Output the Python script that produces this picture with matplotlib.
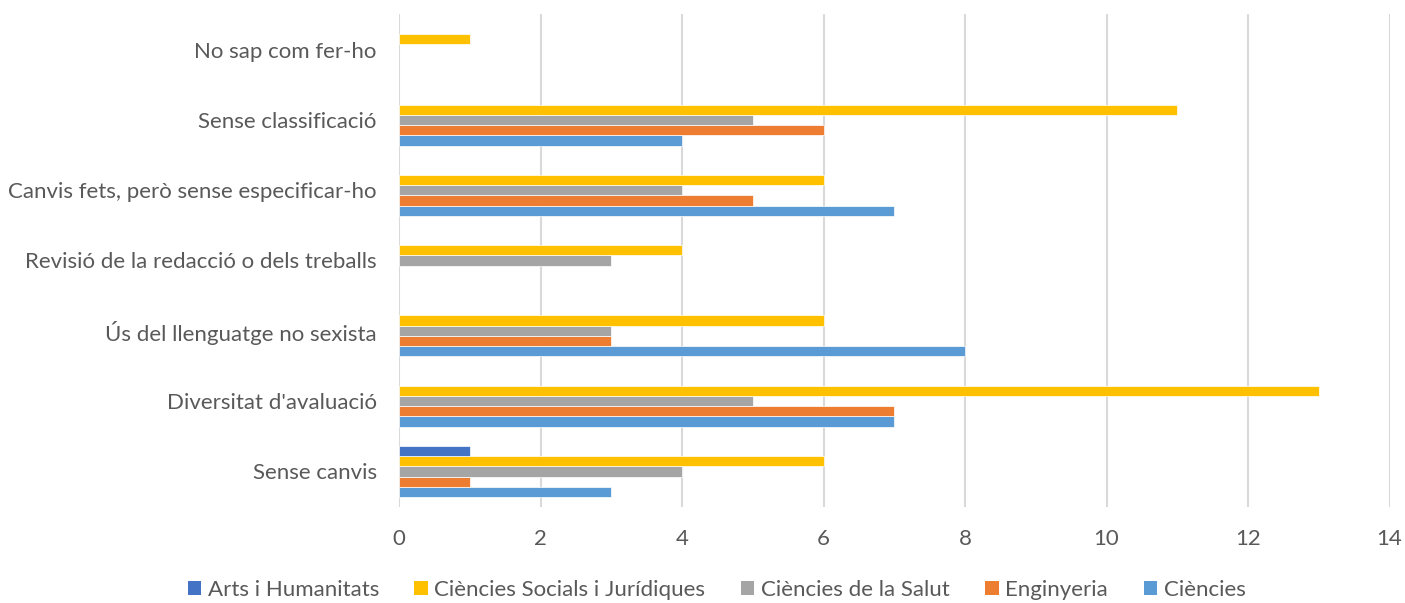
import matplotlib
matplotlib.use("Agg")
import matplotlib.pyplot as plt
import matplotlib.patches as mpatches
import numpy as np

plt.rcParams.update({
    "font.family": ["Lato", "DejaVu Sans"],
    "font.size": 16,
})

# categories, bottom -> top
CATEGORIES = ["Sense canvis", "Diversitat d'avaluació", "Ús del llenguatge no sexista",
              "Revisió de la redacció o dels treballs", "Canvis fets, però sense especificar-ho",
              "Sense classificació", "No sap com fer-ho"]

# series values (same order as categories)
CIENCIES = [3, 7, 8, 0, 7, 4, 0]
ENGINYERIA = [1, 7, 3, 0, 5, 6, 0]
SALUT = [4, 5, 3, 3, 4, 5, 0]
SOCIALS = [6, 13, 6, 4, 6, 11, 1]
ARTS = [1, 0, 0, 0, 0, 0, 0]

XTICKS = [0, 2, 4, 6, 8, 10, 12, 14]

# bottom -> top within a group
SERIES = [("Ciències", CIENCIES, "#5B9BD5"),
          ("Enginyeria", ENGINYERIA, "#ED7D31"),
          ("Ciències de la Salut", SALUT, "#A5A5A5"),
          ("Ciències Socials i Jurídiques", SOCIALS, "#FFC000"),
          ("Arts i Humanitats", ARTS, "#4472C4")]

TXT = "#595959"

fig = plt.figure(figsize=(14.05, 6.03), dpi=100)
ax = fig.add_axes([0.284, 0.16, 0.705, 0.816])

y = np.arange(len(CATEGORIES))
h = 0.146
for k, (name, vals, col) in enumerate(SERIES):
    vals = np.array(vals, dtype=float)
    mask = vals > 0
    ax.barh(y[mask] + (k - 2) * h, vals[mask], h, color=col,
            edgecolor="white", linewidth=0.5, zorder=2)

ax.set_xlim(0, 14)
ax.set_ylim(-0.5, len(CATEGORIES) - 0.5)
ax.set_xticks(XTICKS)
ax.set_yticks(y)
ax.set_yticklabels(CATEGORIES)
ax.grid(axis="x", color="#D9D9D9", lw=1.5, zorder=0)
for sp in ax.spines.values():
    sp.set_visible(False)
ax.tick_params(axis="both", length=0, colors=TXT, labelsize=16)
ax.tick_params(axis="y", pad=16)
ax.tick_params(axis="x", pad=16)

handles = [mpatches.Patch(facecolor=c, label=n) for n, _, c in SERIES[::-1]]
fig.legend(handles=handles, loc="center", ncol=5, frameon=False,
           bbox_to_anchor=(0.51, 0.022), fontsize=16,
           handlelength=0.6, handleheight=0.6, handletextpad=0.3,
           columnspacing=1.6, labelcolor=TXT)

fig.savefig("out.png", dpi=100)
